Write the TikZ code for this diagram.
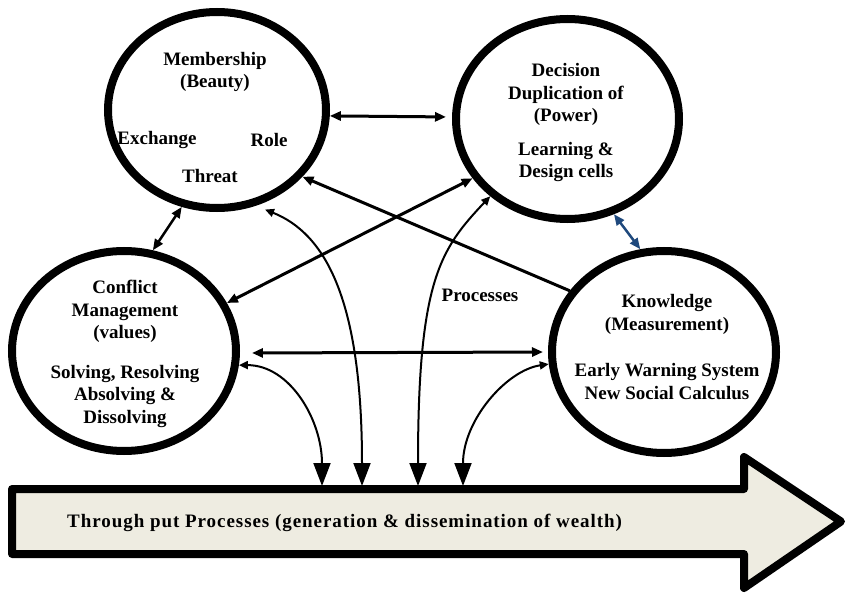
\documentclass[tikz,border=0pt]{standalone}
\usepackage{fontspec}
\setmainfont{Liberation Serif}
\usetikzlibrary{shapes.geometric,arrows.meta}
\definecolor{wealthfill}{RGB}{238,236,225}
\definecolor{linkblue}{RGB}{31,73,125}
\begin{document}
\begin{tikzpicture}[x=1pt,y=-1pt,
  circ/.style={ellipse,draw,line width=8pt,inner sep=0pt},
  lbl/.style={font=\bfseries\fontsize{19}{22.5}\selectfont,align=center,inner sep=0pt},
  both/.style={{Triangle[length=11pt,width=9pt]}-{Triangle[length=11pt,width=9pt]},line width=3pt},
  one/.style={-{Triangle[length=11pt,width=9pt]},line width=3pt},
  mix/.style={{Triangle[length=9pt,width=8pt]}-{Triangle[length=23pt,width=17pt]},line width=2pt}]
  \useasboundingbox (0,0) rectangle (847,599);
  % the banner
  \draw[line width=8pt,line join=round,fill=wealthfill] (12,489) -- (744,489) -- (744,457) -- (841,521.5) -- (744,588) -- (744,554) -- (12,554) -- cycle;
  \node[lbl,anchor=west] (thr) at (67,523) {\addfontfeature{LetterSpace=5}Through put Processes (generation \& dissemination of wealth)};
  \foreach \b/\x in {b1/322,b2/362,b3/418,b4/463} \path (\x,486) coordinate (\b);
  % the four circles
  \node[circ,minimum width=218pt,minimum height=196pt] (mem) at (217,110) {};
  \node[circ,minimum width=223pt,minimum height=200pt] (dec) at (567.5,119) {};
  \node[circ,minimum width=224pt,minimum height=200pt] (con) at (124,351) {};
  \node[circ,minimum width=224pt,minimum height=202pt] (kno) at (664,352) {};
  \node[lbl] (memt) at (215,72) {Membership\\(Beauty)};
  \node[lbl] (exch) at (157,140) {Exchange};
  \node[lbl] (role) at (269,140) {Role};
  \node[lbl] (thrt) at (210,176) {Threat};
  \node[lbl] (dect) at (566,123) {Decision\\Duplication of\\(Power)\\[11pt]Learning \&\\Design cells};
  \node[lbl] (cont) at (125,354) {Conflict\\Management\\(values)\\[17pt]Solving, Resolving\\Absolving \&\\Dissolving};
  \node[lbl] (knot) at (667,347) {Knowledge\\(Measurement)\\[24pt]Early Warning System\\New Social Calculus};
  \node[lbl] (proc) at (480,295) {Processes};
  % links between circles
  \draw[both,shorten >=6pt] (mem.-3.5) -- (dec.179);
  \draw[both,line width=2.5pt] (mem.250) -- (con.74);
  \draw[both,linkblue,line width=2.5pt] (dec.-64) -- (kno.103);
  \draw[both] (dec.212) -- (con.25);
  \draw[one] (kno.147) -- (mem.-38);
  \draw[both,shorten <=12pt,shorten >=5pt] (con.-1) -- (kno.180);
  % links into the banner
  \draw[mix] (con.-7.5) .. controls +(51,0) and +(0,-66) .. (b1);
  \draw[mix,shorten <=10pt] (mem.-68) .. controls +(70,28) and +(0,-186) .. (b2);
  \draw[mix] (dec.225) .. controls +(-50,53) and +(0,-206) .. (b3);
  \draw[mix] (kno.186) .. controls +(-42,6) and +(0,-66) .. (b4);
\end{tikzpicture}
\end{document}
